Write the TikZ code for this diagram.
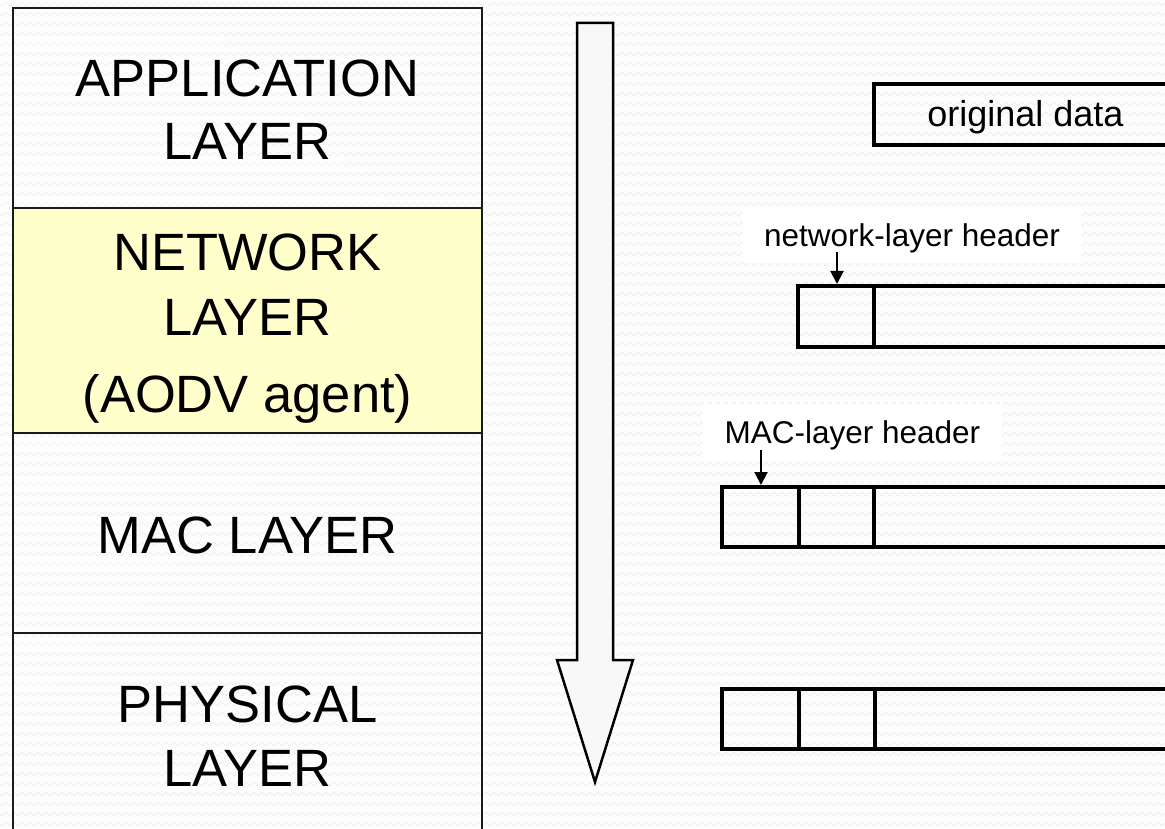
\documentclass[tikz,border=0pt]{standalone}
\usepackage{fontspec}
\setmainfont{Liberation Sans}
\usetikzlibrary{arrows.meta,decorations.pathmorphing}
\definecolor{bgcol}{HTML}{FDFDFD}
\definecolor{texcol}{HTML}{ECECEC}
\definecolor{netyellow}{HTML}{FFFFCC}
\definecolor{arrowfill}{HTML}{F8F8F8}
\definecolor{linecol}{HTML}{1A1A1A}
\tikzset{
  layerline/.style={draw=linecol, line width=2.4pt},
  bigtext/.style={font=\fontsize{52.5}{63}\selectfont, anchor=base, inner sep=0pt, text=black},
  packet/.style={draw=black, line width=3.4pt, line join=miter},
  pktlabel/.style={font=\fontsize{31.5}{36}\selectfont, anchor=base, inner sep=0pt, text=black},
  datalabel/.style={font=\fontsize{36}{40}\selectfont, anchor=base, inner sep=0pt, text=black},
  labelbg/.style={fill=white, draw=none},
  hdrarrow/.style={draw=black, line width=2pt, -{Triangle[width=13pt,length=13pt]}},
  downarrow/.style={draw=black, line width=2.5pt, fill=arrowfill, line join=miter},
  texture/.style={draw=texcol, line width=0.7pt, decorate,
    decoration={zigzag, segment length=8pt, amplitude=2pt}}
}
\begin{document}
\begin{tikzpicture}[x=1pt, y=-1pt]
\useasboundingbox (0,0) rectangle (1165,829);
\clip (0,0) rectangle (1165,829);
\fill[bgcol] (0,0) rectangle (1165,829);
\foreach \yy in {4,14,...,834} {
  \draw[texture] (-4,\yy) -- (1172,\yy);
}

% protocol stack
\fill[netyellow] (13,208) rectangle (482,433);
\draw[layerline] (13,8) rectangle (482,208);
\draw[layerline] (13,208) rectangle (482,433);
\draw[layerline] (13,433) rectangle (482,633);
\draw[layerline] (13,633) rectangle (482,850);

\node[bigtext] (app1) at (247.5,97) {APPLICATION};
\node[bigtext] (app2) at (247.5,160) {LAYER};
\node[bigtext] (net1) at (247.5,270) {NETWORK};
\node[bigtext] (net2) at (247.5,335) {LAYER};
\node[bigtext] (net3) at (247.5,412) {(AODV agent)};
\node[bigtext] (mac1) at (247.5,553) {MAC LAYER};
\node[bigtext] (phy1) at (247.5,722) {PHYSICAL};
\node[bigtext] (phy2) at (247.5,786) {LAYER};

% big downward arrow
\draw[downarrow] (577,23) -- (613,23) -- (613,660) -- (633,660) -- (595,782) -- (557,660) -- (577,660) -- cycle;

% original data
\draw[packet] (874,84) rectangle (1180,145);
\node[datalabel] (orig) at (1025.5,127) {original data};

% network-layer header packet
\fill[labelbg] (743,207) rectangle (1081,263);
\node[pktlabel] (netlbl) at (912,247) {network-layer header};
\coordinate (netfrom) at (837,252);
\coordinate (netto) at (837,284);
\draw[hdrarrow] (netfrom) -- (netto);
\draw[packet] (798,286) rectangle (1180,347);
\draw[packet] (874,286) -- (874,347);

% MAC-layer header packet
\fill[labelbg] (703,404) rectangle (1002,460);
\node[pktlabel] (maclbl) at (852.5,443) {MAC-layer header};
\coordinate (macfrom) at (761,450);
\coordinate (macto) at (761,485);
\draw[hdrarrow] (macfrom) -- (macto);
\draw[packet] (722,487) rectangle (1180,547);
\draw[packet] (799,487) -- (799,547);
\draw[packet] (874,487) -- (874,547);

% physical-layer packet
\draw[packet] (722,689) rectangle (1180,749);
\draw[packet] (799,689) -- (799,749);
\draw[packet] (875,689) -- (875,749);
\end{tikzpicture}
\end{document}
